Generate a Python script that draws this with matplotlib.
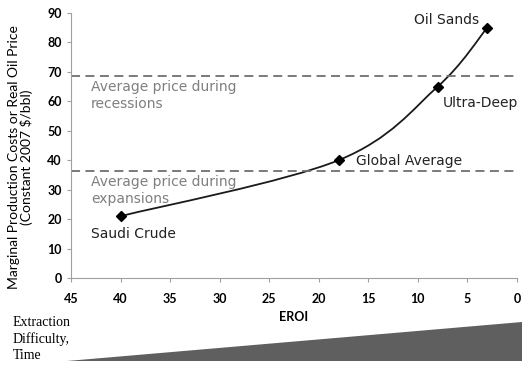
import matplotlib.pyplot as plt
from matplotlib.path import Path
from matplotlib.patches import PathPatch

# data
eroi = [40, 18, 8, 3]
cost = [21, 40, 65, 85]
names = ['Saudi Crude', 'Global Average', 'Ultra-Deep', 'Oil Sands']
recession_price = 68.5
expansion_price = 36.3
x_ticks = [45, 40, 35, 30, 25, 20, 15, 10, 5, 0]
y_ticks = [0, 10, 20, 30, 40, 50, 60, 70, 80, 90]

plt.rcParams['font.family'] = ['Lato', 'DejaVu Sans']

fig = plt.figure(figsize=(5.28, 3.68), dpi=100)
ax = fig.add_axes([0.1345, 0.2446, 0.8445, 0.72])


def smooth_path(xv, yv):
    # spreadsheet-style smoothed line: bezier segments with catmull-rom handles
    pts = list(zip(xv, yv))
    n = len(pts)
    verts = [pts[0]]
    codes = [Path.MOVETO]
    for i in range(n - 1):
        p0 = pts[max(i - 1, 0)]
        p1 = pts[i]
        p2 = pts[i + 1]
        p3 = pts[min(i + 2, n - 1)]
        c1 = (p1[0] + (p2[0] - p0[0]) / 6, p1[1] + (p2[1] - p0[1]) / 6)
        c2 = (p2[0] - (p3[0] - p1[0]) / 6, p2[1] - (p3[1] - p1[1]) / 6)
        verts += [c1, c2, p2]
        codes += [Path.CURVE4] * 3
    return Path(verts, codes)


ax.add_patch(PathPatch(smooth_path(eroi, cost), fill=False, edgecolor='#1a1a1a', lw=1.3))
ax.plot(eroi, cost, 'D', color='black', ms=5)

ax.axhline(recession_price, color='#707070', ls=(0, (5, 3)), lw=1.3)
ax.axhline(expansion_price, color='#707070', ls=(0, (5, 3)), lw=1.3)

note = dict(family='DejaVu Sans', fontsize=10, va='top', linespacing=1.3)
ax.text(43.0, recession_price - 1.2, 'Average price during\nrecessions', color='#7f7f7f', **note)
ax.text(43.0, expansion_price - 1.2, 'Average price during\nexpansions', color='#7f7f7f', **note)

lab = dict(family='DejaVu Sans', fontsize=10, color='#222222')
ax.text(eroi[0] + 3.0, cost[0] - 6.0, names[0], va='center', **lab)
ax.text(eroi[1] - 1.8, cost[1] - 0.2, names[1], va='center', **lab)
ax.text(eroi[2] - 0.5, cost[2] - 5.7, names[2], va='center', **lab)
ax.text(eroi[3] + 0.8, cost[3] + 2.5, names[3], ha='right', va='center', **lab)

ax.set_xlim(45, 0)
ax.set_ylim(0, 90)
ax.set_xticks(x_ticks)
ax.set_yticks(y_ticks)
for s in ['top', 'right']:
    ax.spines[s].set_visible(False)
for s in ['left', 'bottom']:
    ax.spines[s].set_color('#a0a0a0')
ax.tick_params(colors='#a0a0a0', labelcolor='black', labelsize=9, length=3)
ax.tick_params(axis='x', pad=8)
for t in ax.get_xticklabels() + ax.get_yticklabels():
    t.set_fontweight('bold')
ax.set_xlabel('EROI', fontsize=9, fontweight='bold', labelpad=4)
ax.set_ylabel('Marginal Production Costs or Real Oil Price\n(Constant 2007 $/bbl)',
              fontsize=10, linespacing=1.05)
ax.yaxis.set_label_coords(-0.085, 0.457)

# wedge showing increasing difficulty
wax = fig.add_axes([67 / 528, 1 - 361 / 368, 455 / 528, 39 / 368])
wax.fill([0, 1, 1], [0, 1, 0], color='#5f5f5f', lw=0)
wax.set_xlim(0, 1)
wax.set_ylim(0, 1)
wax.axis('off')

fig.text(13 / 528, 1 - 316 / 368, 'Extraction\nDifficulty,\nTime', family='Liberation Serif',
         fontsize=10, va='top', linespacing=1.3)

fig.savefig('out.png', dpi=100)
